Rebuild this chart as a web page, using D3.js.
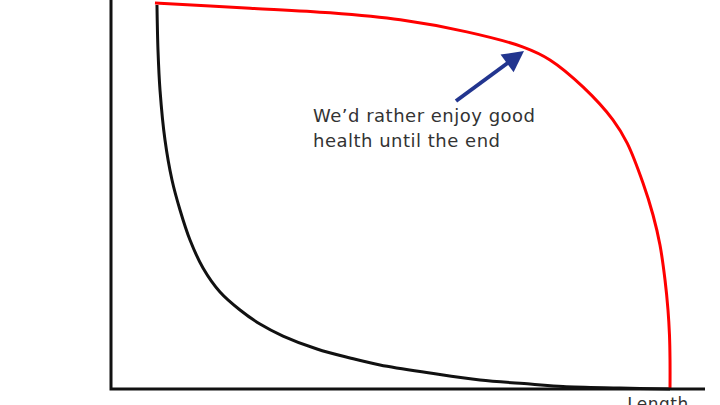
<!DOCTYPE html>
<html><head><meta charset="utf-8">
<script src="https://cdn.jsdelivr.net/npm/d3@7"></script>
<style>html,body{margin:0;padding:0;background:#fff;}svg{display:block;}</style>
</head><body>
<svg id="c" width="720" height="405"></svg>
<script>
// Data (length 0-100, health 0-100)
const blackX = [7.74, 7.91, 8.25, 9.09, 10.27, 11.62, 13.30, 15.49, 18.35, 21.72, 25.08, 28.96, 34.68, 40.24, 45.29, 53.70, 62.12, 70.54, 76.09, 85.69, 94.11];
const blackY = [98.71, 87.15, 76.86, 64.01, 53.73, 46.02, 38.30, 31.11, 24.94, 20.31, 16.71, 13.62, 10.28, 7.97, 6.17, 4.11, 2.31, 1.29, 0.64, 0.26, 0];
const redX = [7.4, 23.4, 36.9, 48.7, 59.9, 69.4, 73.9, 79.5, 84.5, 86.9, 89.56, 91.25, 92.42, 93.27, 93.77, 94.02, 94.11, 94.11];
const redY = [99.2, 97.9, 96.7, 94.9, 91.8, 87.9, 84.6, 77.6, 69.2, 63.2, 52.96, 44.73, 37.02, 28.02, 20.31, 13.88, 7.46, 0];
const xLabel = "Length";
const noteLines = ["We\u2019d rather enjoy good", "health until the end"];

const svg = d3.select("#c");
const x = d3.scaleLinear().domain([0, 100]).range([111, 705]);
const y = d3.scaleLinear().domain([0, 100]).range([389, 0]);

const line = d3.line().x(d => x(d[0])).y(d => y(d[1])).curve(d3.curveCatmullRom.alpha(0.5));

svg.append("path").datum(d3.zip(blackX, blackY)).attr("d", line)
  .attr("fill", "none").attr("stroke", "#111").attr("stroke-width", 3);
svg.append("path").datum(d3.zip(redX, redY)).attr("d", line)
  .attr("fill", "none").attr("stroke", "#ff0000").attr("stroke-width", 3);

// axes
svg.append("path").attr("d", `M${x(0)},0 L${x(0)},${y(0)} L${x(100)},${y(0)}`)
  .attr("fill", "none").attr("stroke", "#111").attr("stroke-width", 3);

svg.append("text").attr("x", 658).attr("y", 410).attr("text-anchor", "middle")
  .attr("font-family", "'DejaVu Sans', sans-serif").attr("font-size", 17).attr("letter-spacing", 0.5)
  .attr("fill", "#333").text(xLabel);

// annotation
const t = svg.append("text").attr("font-family", "'DejaVu Sans', sans-serif")
  .attr("font-size", 18).attr("letter-spacing", 0.5).attr("fill", "#333");
noteLines.forEach((s, i) => t.append("tspan").attr("x", 313).attr("y", 122 + i * 25).text(s));

// arrow
const tail = [456, 101], tip = [524, 51];
const dx = tip[0] - tail[0], dy = tip[1] - tail[1], L = Math.hypot(dx, dy);
const ux = dx / L, uy = dy / L, hl = 21, hw = 11;
const bx = tip[0] - ux * hl, by = tip[1] - uy * hl;
svg.append("line").attr("x1", tail[0]).attr("y1", tail[1]).attr("x2", bx + ux * 2).attr("y2", by + uy * 2)
  .attr("stroke", "#22358f").attr("stroke-width", 4);
svg.append("path").attr("d", `M${tip[0]},${tip[1]} L${bx - uy * hw},${by + ux * hw} L${bx + uy * hw},${by - ux * hw} Z`)
  .attr("fill", "#22358f");
</script>
</body></html>
